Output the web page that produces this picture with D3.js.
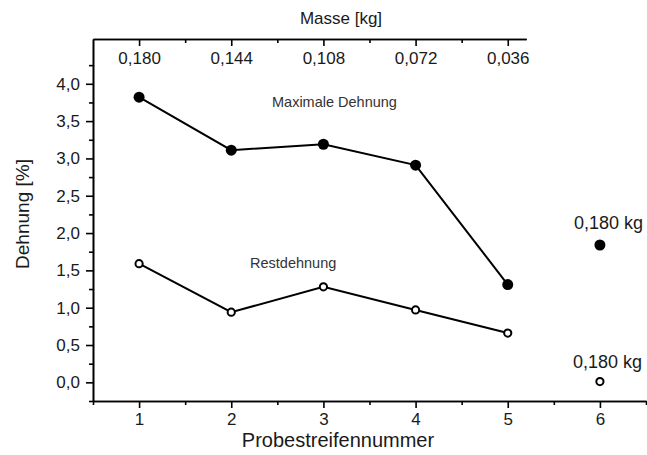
<!DOCTYPE html>
<html>
<head>
<meta charset="utf-8">
<script src="https://cdn.jsdelivr.net/npm/d3@7"></script>
<style>
  body { margin: 0; background: #fff; }
  svg { font-family: "Liberation Sans", Arial, sans-serif; }
  .axis path, .axis line { stroke: #000; stroke-width: 1.6; }
  .axis text { fill: #1a1a1a; font-size: 17px; }
</style>
</head>
<body>
<svg width="647" height="455"></svg>
<script>
// data
var strips = [1, 2, 3, 4, 5];
var maxStrain = [3.82, 3.11, 3.19, 2.91, 1.31];
var restStrain = [1.59, 0.94, 1.28, 0.97, 0.66];
var extraStrip = 6;
var extraMax = 1.84;
var extraRest = 0.01;
var yTicks = [0, 0.5, 1, 1.5, 2, 2.5, 3, 3.5, 4];
var yMinor = [-0.25, 0.25, 0.75, 1.25, 1.75, 2.25, 2.75, 3.25, 3.75, 4.25];
var xTicks = [1, 2, 3, 4, 5, 6];
var xMinor = [0.5, 1.5, 2.5, 3.5, 4.5, 5.5, 6.5];
var massTicks = [0.180, 0.144, 0.108, 0.072, 0.036];
var massMinor = [0.162, 0.126, 0.090, 0.054];

var svg = d3.select("svg");
var fmt = function(d, n){ return d.toFixed(n).replace(".", ","); };

var x = d3.scaleLinear().domain([0.5, 6.5]).range([93, 646]);
var y = d3.scaleLinear().domain([-0.25, 4.6]).range([401, 39]);
// top axis: mass = 0.216 - 0.036 * strip
var xm = d3.scaleLinear().domain([0.198, 0.0288]).range([x(0.5), x(5.2)]);

// left axis
svg.append("g").attr("class", "axis").attr("transform", "translate(93,0)")
    .call(d3.axisLeft(y).tickValues(yMinor).tickSize(4).tickFormat("").tickSizeOuter(0));
svg.append("g").attr("class", "axis").attr("transform", "translate(93,0)")
    .call(d3.axisLeft(y).tickValues(yTicks).tickSize(7).tickPadding(6).tickSizeOuter(0)
        .tickFormat(function(d){ return fmt(d, 1); }));

// bottom axis
svg.append("g").attr("class", "axis").attr("transform", "translate(0,401)")
    .call(d3.axisBottom(x).tickValues(xMinor).tickSize(4).tickFormat("").tickSizeOuter(0));
svg.append("g").attr("class", "axis").attr("transform", "translate(0,401)")
    .call(d3.axisBottom(x).tickValues(xTicks).tickSize(7).tickPadding(5).tickSizeOuter(0)
        .tickFormat(d3.format("d")));

// top axis, ticks pointing inside
svg.append("g").attr("class", "axis").attr("transform", "translate(0,39)")
    .call(d3.axisBottom(xm).tickValues(massMinor).tickSize(4).tickFormat("").tickSizeOuter(0));
svg.append("g").attr("class", "axis").attr("transform", "translate(0,39)")
    .call(d3.axisBottom(xm).tickValues(massTicks).tickSize(7).tickPadding(6).tickSizeOuter(0)
        .tickFormat(function(d){ return fmt(d, 3); }));

// axis titles
svg.append("text").attr("x", 341).attr("y", 24).attr("text-anchor", "middle")
    .attr("font-size", 17).attr("fill", "#1a1a1a").text("Masse [kg]");
svg.append("text").attr("x", 338).attr("y", 447).attr("text-anchor", "middle")
    .attr("font-size", 20).attr("fill", "#1a1a1a").text("Probestreifennummer");
svg.append("text").attr("transform", "translate(29,214) rotate(-90)").attr("text-anchor", "middle")
    .attr("font-size", 19).attr("fill", "#1a1a1a").text("Dehnung [%]");

// lines
var line = d3.line().x(function(d){ return x(d[0]); }).y(function(d){ return y(d[1]); });
var maxPts = strips.map(function(s, i){ return [s, maxStrain[i]]; });
var restPts = strips.map(function(s, i){ return [s, restStrain[i]]; });
svg.append("path").datum(maxPts).attr("d", line).attr("fill", "none").attr("stroke", "#000").attr("stroke-width", 2);
svg.append("path").datum(restPts).attr("d", line).attr("fill", "none").attr("stroke", "#000").attr("stroke-width", 2);

svg.selectAll(".maxdot").data(maxPts.concat([[extraStrip, extraMax]])).enter().append("circle")
    .attr("cx", function(d){ return x(d[0]); }).attr("cy", function(d){ return y(d[1]); })
    .attr("r", 5.5).attr("fill", "#000");
svg.selectAll(".restdot").data(restPts.concat([[extraStrip, extraRest]])).enter().append("circle")
    .attr("cx", function(d){ return x(d[0]); }).attr("cy", function(d){ return y(d[1]); })
    .attr("r", 3.6).attr("fill", "#fff").attr("stroke", "#000").attr("stroke-width", 2);

// annotations
svg.append("text").attr("x", 272).attr("y", 107).attr("font-size", 14.5).attr("fill", "#333").text("Maximale Dehnung");
svg.append("text").attr("x", 250).attr("y", 268).attr("font-size", 14.5).attr("fill", "#333").text("Restdehnung");
svg.append("text").attr("x", 574).attr("y", 229).attr("font-size", 18).attr("fill", "#1a1a1a").text("0,180 kg");
svg.append("text").attr("x", 573).attr("y", 368).attr("font-size", 18).attr("fill", "#1a1a1a").text("0,180 kg");
</script>
</body>
</html>
